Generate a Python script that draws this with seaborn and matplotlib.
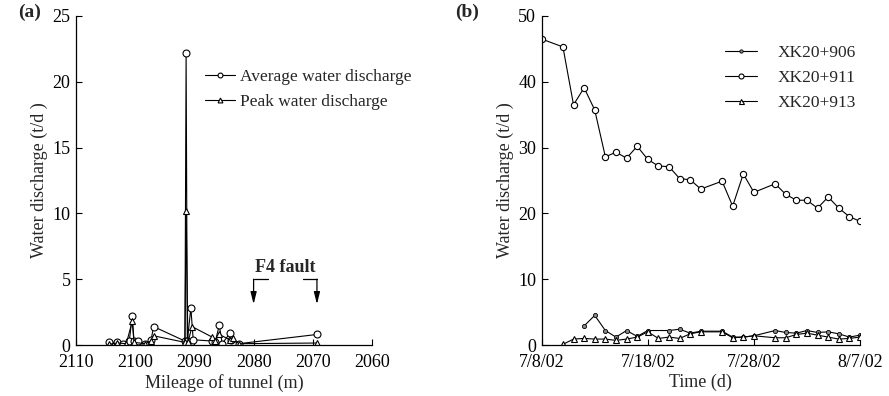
import numpy as np
import pandas as pd
import matplotlib
matplotlib.use("Agg")
import matplotlib.pyplot as plt
import seaborn as sns

# ---------------- data (a) ----------------
avg_mileage = [2104.5, 2103.0, 2102.0, 2101.0, 2100.5, 2100.2, 2099.5, 2098.3, 2097.3, 2096.9,
               2091.6, 2091.4, 2091.2, 2090.6, 2090.2, 2087.0, 2086.5, 2085.8, 2085.3, 2084.0,
               2083.8, 2082.5, 2069.3]
avg_value = [0.2, 0.2, 0.1, 0.3, 2.2, 0.3, 0.3, 0.1, 0.4, 1.4,
             0.3, 22.2, 0.3, 2.8, 0.4, 0.3, 0.2, 1.5, 0.1, 0.9,
             0.4, 0.1, 0.8]
peak_mileage = [2104.5, 2103.0, 2101.5, 2100.5, 2100.2, 2098.3, 2097.3, 2096.9, 2091.6, 2091.4,
                2091.1, 2090.4, 2087.0, 2086.5, 2085.8, 2084.0, 2083.5, 2082.5, 2069.3]
peak_value = [0.05, 0.15, 0.1, 1.8, 0.2, 0.1, 0.3, 0.7, 0.2, 10.2,
              0.2, 1.4, 0.6, 0.3, 0.8, 0.4, 0.5, 0.1, 0.15]
fault_start = 2080.0
fault_end = 2069.3

# ---------------- data (b) ----------------
start_date = "2002-07-08"
days_911 = [0, 2, 3, 4, 5, 6, 7, 8, 9, 10, 11, 12, 13, 14, 15, 17, 18, 19, 20, 22,
            23, 24, 25, 26, 27, 28, 29, 30]
val_911 = [46.5, 45.3, 36.5, 39.1, 35.7, 28.6, 29.3, 28.4, 30.2, 28.2, 27.2, 27.1, 25.3, 25.1,
           23.7, 24.9, 21.1, 26.0, 23.2, 24.5, 22.9, 22.0, 22.0, 20.8, 22.5, 20.8, 19.5, 18.8]
days_906 = [4, 5, 6, 7, 8, 9, 10, 12, 13, 14, 15, 17, 18, 19, 20, 22, 23, 24, 25, 26,
            27, 28, 29, 30]
val_906 = [2.9, 4.5, 2.2, 1.2, 2.2, 1.3, 2.2, 2.2, 2.4, 1.8, 2.1, 2.1, 1.2, 1.2, 1.4, 2.2,
           1.9, 1.8, 2.2, 1.9, 2.0, 1.7, 1.2, 1.5]
days_913 = [2, 3, 4, 5, 6, 7, 8, 9, 10, 11, 12, 13, 14, 15, 17, 18, 19, 20, 22, 23,
            24, 25, 26, 27, 28, 29, 30]
val_913 = [0.1, 0.9, 1.0, 0.9, 0.9, 0.7, 0.9, 1.2, 2.0, 1.0, 1.2, 1.0, 1.7, 2.0, 2.0, 1.1,
           1.2, 1.4, 1.1, 1.1, 1.6, 1.8, 1.5, 1.2, 0.9, 1.0, 1.2]
date_ticks = ["2002-07-08", "2002-07-18", "2002-07-28", "2002-08-07"]
date_tick_labels = ["7/8/02", "7/18/02", "7/28/02", "8/7/02"]

sns.set_theme(style="ticks")
plt.rcParams['font.family'] = ['Liberation Serif', 'DejaVu Serif']

fig = plt.figure(figsize=(8.89, 3.96), dpi=100)
ax1 = fig.add_axes([76/889, 1-345/396, (372-76)/889, (345-16)/396])
ax2 = fig.add_axes([541.7/889, 1-345/396, (860-541.7)/889, (345-16)/396])

FS = 13
LFS = 12.5
lw = 0.8

# ---- panel (a)
sns.lineplot(x=avg_mileage, y=avg_value, ax=ax1, sort=False, estimator=None, color='black',
             lw=lw, marker='o', markersize=5, markerfacecolor='white', markeredgecolor='black',
             markeredgewidth=0.8, label='Average water discharge')
sns.lineplot(x=peak_mileage, y=peak_value, ax=ax1, sort=False, estimator=None, color='black',
             lw=lw, marker='^', markersize=5, markerfacecolor='white', markeredgecolor='black',
             markeredgewidth=0.8, label='Peak water discharge')
ax1.set_xlim(2110, 2060)
ax1.set_ylim(0, 25)
ax1.set_xticks([2110, 2100, 2090, 2080, 2070, 2060])
ax1.set_yticks([0, 5, 10, 15, 20, 25])
ax1.set_xlabel("Mileage of tunnel (m)", fontsize=FS, labelpad=2)
ax1.set_ylabel("Water discharge (t/d )", fontsize=FS, labelpad=3)
ax1.legend(loc='upper left', bbox_to_anchor=(0.436, 0.84), frameon=False, fontsize=LFS,
           handlelength=1.7, handletextpad=0.3, labelspacing=0.55, borderaxespad=0, borderpad=0,
           markerscale=0.7)

# F4 fault annotation
ax1.text((fault_start + fault_end) / 2, 5.9, "F4 fault", ha='center', va='center',
         fontsize=FS, fontweight='bold')
ax1.plot([fault_start, fault_start - 2.4], [5.0, 5.0], color='black', lw=0.9)
ax1.plot([fault_end + 2.3, fault_end], [5.0, 5.0], color='black', lw=0.9)
for xx in (fault_start, fault_end):
    ax1.annotate("", xy=(xx, 3.1), xytext=(xx, 5.0),
                 arrowprops=dict(arrowstyle='-|>,head_length=0.6,head_width=0.15',
                                 color='black', lw=0.9, shrinkA=0, shrinkB=0))

# ---- panel (b)
base = pd.Timestamp(start_date)
d906 = [base + pd.Timedelta(days=d) for d in days_906]
d911 = [base + pd.Timedelta(days=d) for d in days_911]
d913 = [base + pd.Timedelta(days=d) for d in days_913]
sns.lineplot(x=d906, y=val_906, ax=ax2, sort=False, estimator=None, color='black', lw=lw,
             marker='o', markersize=3, markerfacecolor='#888888', markeredgecolor='black',
             markeredgewidth=0.6, label='XK20+906')
sns.lineplot(x=d911, y=val_911, ax=ax2, sort=False, estimator=None, color='black', lw=lw,
             marker='o', markersize=4.5, markerfacecolor='white', markeredgecolor='black',
             markeredgewidth=0.8, label='XK20+911')
sns.lineplot(x=d913, y=val_913, ax=ax2, sort=False, estimator=None, color='black', lw=lw,
             marker='^', markersize=4.5, markerfacecolor='white', markeredgecolor='black',
             markeredgewidth=0.8, label='XK20+913')
ax2.set_xlim(pd.Timestamp(date_ticks[0]), pd.Timestamp(date_ticks[-1]))
ax2.set_ylim(0, 50)
ax2.set_xticks([pd.Timestamp(t) for t in date_ticks])
ax2.set_xticklabels(date_tick_labels)
ax2.set_yticks([0, 10, 20, 30, 40, 50])
ax2.set_xlabel("Time (d)", fontsize=FS, labelpad=2)
ax2.set_ylabel("Water discharge (t/d )", fontsize=FS, labelpad=3)
ax2.legend(loc='upper left', bbox_to_anchor=(0.576, 0.912), frameon=False, fontsize=LFS,
           handlelength=1.85, handletextpad=1.2, labelspacing=0.5, borderaxespad=0, borderpad=0,
           markerscale=0.8)

for ax in (ax1, ax2):
    sns.despine(ax=ax)
    ax.tick_params(direction='in', length=4, width=0.8, labelsize=FS, colors='black')
    ax.tick_params(axis='x', pad=6.5)
    ax.tick_params(axis='y', pad=4)
    for s in ('left', 'bottom'):
        ax.spines[s].set_linewidth(0.9)
        ax.spines[s].set_color('black')
    ax.set_facecolor('white')

fig.text(18/889, 1-12/396, "(a)", fontsize=14, fontweight='bold', va='center', ha='left')
fig.text(455/889, 1-12/396, "(b)", fontsize=14, fontweight='bold', va='center', ha='left')

fig.savefig("out.png", dpi=100, facecolor='white')
